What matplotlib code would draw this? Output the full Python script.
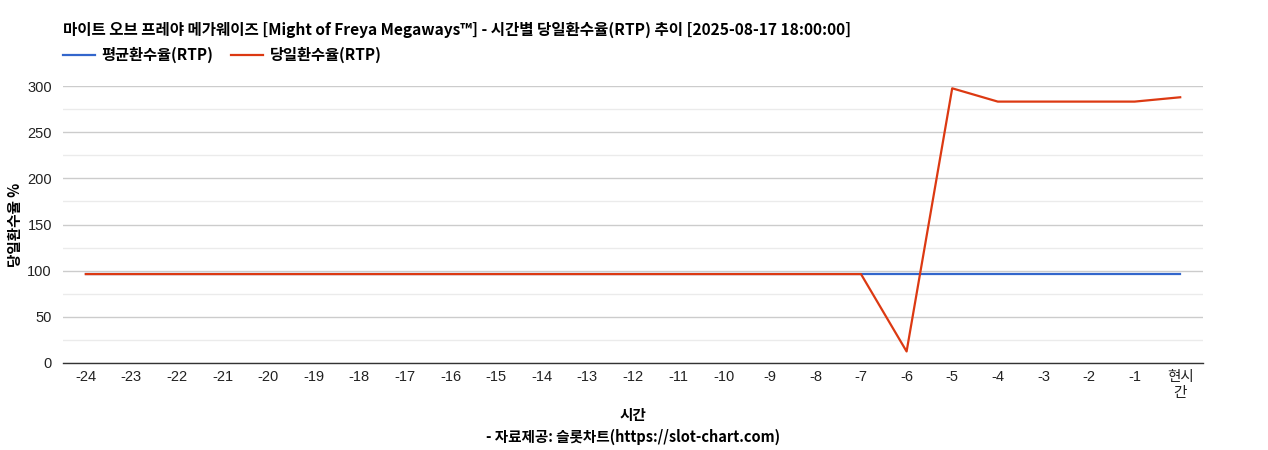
import matplotlib
matplotlib.use("Agg")
import matplotlib.pyplot as plt
import numpy as np

plt.rcParams['font.family'] = ['Noto Sans CJK KR', 'DejaVu Sans']
TICK_FONT = ['Liberation Sans', 'Noto Sans CJK KR']

categories = ['-24', '-23', '-22', '-21', '-20', '-19', '-18', '-17', '-16', '-15',
              '-14', '-13', '-12', '-11', '-10', '-9', '-8', '-7', '-6', '-5',
              '-4', '-3', '-2', '-1', '현시\n간']
avg_rtp = [96.3] * 25
day_rtp = [96.3] * 18 + [12.5, 297.5, 283.1, 283.1, 283.1, 283.1, 287.8]

title = '마이트 오브 프레야 메가웨이즈 [Might of Freya Megaways™] - 시간별 당일환수율(RTP) 추이 [2025-08-17 18:00:00]'
series_names = ['평균환수율(RTP)', '당일환수율(RTP)']
colors = ['#3366cc', '#dc3912']

fig = plt.figure(figsize=(12.68, 4.5), dpi=100)
ax = fig.add_axes([63/1268, 1-363/450, (1203-63)/1268, (363-86)/450])

x = np.arange(len(categories))
l1, = ax.plot(x, avg_rtp, color=colors[0], lw=1.6, zorder=3)
l2, = ax.plot(x, day_rtp, color=colors[1], lw=1.6, zorder=4)

ax.set_xlim(-0.5, len(categories) - 0.5)
ax.set_ylim(0, 300)
ax.set_yticks(np.arange(0, 301, 50))
ax.set_yticks(np.arange(25, 300, 50), minor=True)
ax.set_xticks(x)
ax.set_xticklabels(categories, fontsize=10.5, color='#222222', linespacing=1.15,
                   family=TICK_FONT)
for lab in ax.get_yticklabels():
    lab.set_family(TICK_FONT)
ax.tick_params(axis='y', labelsize=10.5, colors='#222222', length=0, pad=8, which='both')
ax.tick_params(axis='x', length=0, pad=5)
ax.grid(axis='y', which='major', color='#cccccc', lw=1)
ax.grid(axis='y', which='minor', color='#ebebeb', lw=1)
ax.set_axisbelow(True)
for s in ['top', 'right', 'left']:
    ax.spines[s].set_visible(False)
ax.spines['bottom'].set_color('#333333')
ax.spines['bottom'].set_linewidth(1)

ax.set_ylabel('당일환수율 %', fontsize=10.5, fontweight='bold')
ax.yaxis.set_label_coords((23-63)/1140, 0.5)

fig.text(63/1268, 1-30/450, title, fontsize=11.2, fontweight='bold', va='center', ha='left')
fig.text(633/1268, 1-415/450, '시간', fontsize=10.5, fontweight='bold', va='center', ha='center')
fig.text(633/1268, 1-437/450, '- 자료제공: 슬롯차트(https://slot-chart.com)', fontsize=10.5,
         fontweight='bold', va='center', ha='center')

fig.legend([l1, l2], series_names, loc='center left', bbox_to_anchor=(63/1268, 1-55/450),
           ncol=2, frameon=False, prop={'weight': 'bold', 'size': 11},
           handlelength=2.1, handletextpad=0.4, columnspacing=1.2, borderaxespad=0,
           borderpad=0)

fig.savefig('out.png', dpi=100)
